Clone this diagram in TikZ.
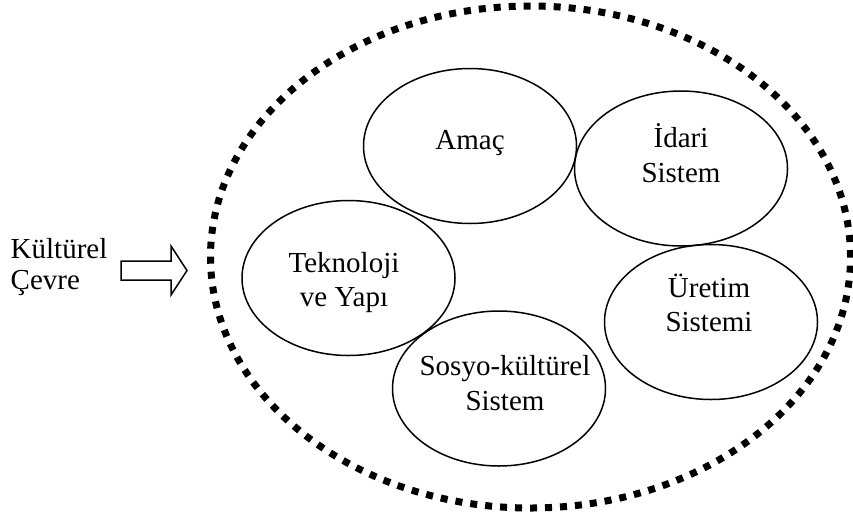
\documentclass[tikz,border=0pt]{standalone}
\usepackage{fontspec}
\setmainfont{Liberation Serif}
\usetikzlibrary{shapes.geometric}
\begin{document}
\begin{tikzpicture}[x=1pt,y=-1pt,
  oval/.style={draw, ellipse, line width=1.5pt, minimum width=213pt, minimum height=155pt, inner sep=0pt},
  txt/.style={align=center, inner sep=0pt, font=\fontsize{29}{34.5}\selectfont},
  envoval/.style={draw, ellipse, line width=7pt, dash pattern=on 7pt off 8pt, minimum width=640pt, minimum height=502pt, inner sep=0pt},
  blockarrow/.style={draw, line width=1.5pt, line join=miter}
]
\useasboundingbox (0,0) rectangle (853,523);
\node[envoval] (env) at (530.5,257) {};
\node[oval] (amac)   at (470,146)   {};
\node[oval] (idari)  at (681,168.5) {};
\node[oval] (tekno)  at (348.5,278) {};
\node[oval] (uretim) at (711,322)   {};
\node[oval] (sosyo)  at (499,388.5) {};
\node[txt] (amact)   at (470,143.5) {Amaç};
\node[txt] (idarit)  at (681,153)   {İdari\\Sistem};
\node[txt] (teknot)  at (344,282.7) {Teknoloji\\ve Yapı};
\node[txt] (uretimt) at (709,303)   {Üretim\\Sistemi};
\node[txt] (sosyot)  at (505,383)   {Sosyo-kültürel\\Sistem};
\node[txt, align=left, anchor=west, font=\fontsize{29}{31.5}\selectfont] (kulturt) at (10.5,267) {Kültürel\\Çevre};
\draw[blockarrow] (121,261) -- (171,261) -- (171,246) -- (187,270.5) -- (171,295) -- (171,280) -- (121,280) -- cycle;
\end{tikzpicture}
\end{document}
